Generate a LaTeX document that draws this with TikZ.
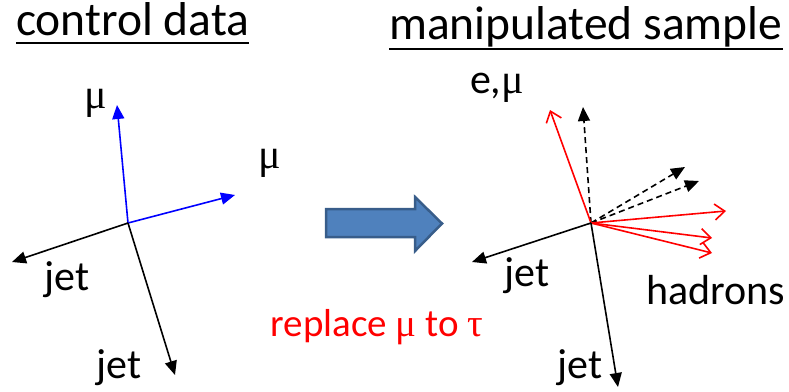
\documentclass[tikz,border=0pt]{standalone}
\usepackage{fontspec}
\setmainfont{Carlito}
\newfontfamily\grk{Liberation Serif}
\usetikzlibrary{arrows.meta}
\definecolor{arrfill}{HTML}{4F81BD}
\definecolor{arrdraw}{HTML}{385D8A}
\tikzset{
  lbl/.style={inner sep=0pt, font=\fontsize{42}{44}\selectfont},
  ttl/.style={inner sep=0pt, anchor=base west, font=\fontsize{47.5}{50}\selectfont},
  jetarr/.style={draw=black, line width=1.6pt, -{Triangle[length=14pt,width=12pt]}},
  muarr/.style={draw=blue, line width=1.6pt, -{Triangle[length=14pt,width=12pt]}},
  dsharr/.style={draw=black, line width=1.6pt, dashed, dash pattern=on 6pt off 4pt, -{Triangle[length=14pt,width=12pt]}},
  redarr/.style={draw=red, line width=1.6pt, -{Straight Barb[length=10pt,width=16pt,line width=1.6pt]}},
  uline/.style={line width=2.6pt, black},
}
\begin{document}
\begin{tikzpicture}[x=1pt,y=-1pt]
\useasboundingbox (0,0) rectangle (789,391);
% titles
\node[ttl] (t1) at (16,35) {control data};
\node[ttl] (t2) at (389,39) {manipulated sample};
\draw[uline] ([yshift=-8pt]t1.base west) -- ([yshift=-8pt]t1.base east);
\draw[uline] ([yshift=-10pt]t2.base west) -- ([yshift=-10pt]t2.base east);
% left diagram
\coordinate (o1) at (128,223);
\coordinate (m1) at (117,105);
\coordinate (m2) at (235,195);
\coordinate (j1) at (12,262);
\coordinate (j2) at (175,375);
\draw[muarr] (o1) -- (m1);
\draw[muarr] (o1) -- (m2);
\draw[jetarr] (o1) -- (j1);
\draw[jetarr] (o1) -- (j2);
\node[lbl] (lm1) at (96,103) {\grk μ};
\node[lbl] (lm2) at (270,163) {\grk μ};
\node[lbl] (lj1) at (67,280) {jet};
\node[lbl] (lj2) at (119,368) {jet};
% big arrow
\draw[fill=arrfill, draw=arrdraw, line width=2.5pt, line join=miter]
  (326,209) -- (415,209) -- (415,197) -- (442,223.5) -- (415,251) -- (415,237) -- (326,237) -- cycle;
\node[lbl, text=red, font=\fontsize{39}{40}\selectfont] (rep) at (377,327) {replace {\grk μ} to {\grk τ}};
% right diagram
\coordinate (o2) at (591,223);
\coordinate (r1) at (550,110);
\coordinate (d1) at (583,107);
\coordinate (d2) at (685,167);
\coordinate (d3) at (699,181);
\coordinate (h1) at (726,211);
\coordinate (h2) at (712,238);
\coordinate (h3) at (712,253);
\coordinate (j3) at (472,262);
\coordinate (j4) at (618,387);
\draw[dsharr] (o2) -- (d1);
\draw[dsharr] (o2) -- (d2);
\draw[dsharr] (o2) -- (d3);
\draw[redarr] (o2) -- (r1);
\draw[redarr] (o2) -- (h1);
\draw[redarr] (o2) -- (h2);
\draw[redarr] (o2) -- (h3);
\draw[jetarr] (o2) -- (j3);
\draw[jetarr] (o2) -- (j4);
\node[lbl] (lem) at (497,88) {e,{\grk μ}};
\node[lbl] (lj3) at (527,276) {jet};
\node[lbl] (lhad) at (716,290) {hadrons};
\node[lbl] (lj4) at (580,368) {jet};
\end{tikzpicture}
\end{document}
